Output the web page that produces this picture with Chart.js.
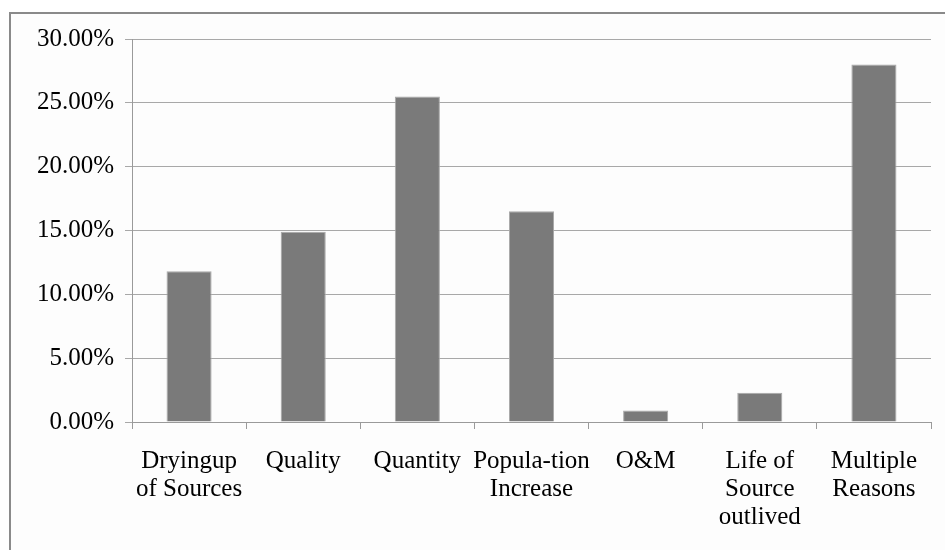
<!DOCTYPE html>
<html>
<head>
<meta charset="utf-8">
<script src="https://cdn.jsdelivr.net/npm/chart.js@4.4.0/dist/chart.umd.min.js"></script>
<style>
  html, body { margin: 0; padding: 0; background: #ffffff; }
  #wrap { width: 945px; height: 550px; position: relative; }
</style>
</head>
<body>
<div id="wrap"><canvas id="c" width="945" height="550"></canvas></div>
<script>
const categories = [
  ["Dryingup", "of Sources"],
  ["Quality"],
  ["Quantity"],
  ["Popula-tion", "Increase"],
  ["O&M"],
  ["Life of", "Source", "outlived"],
  ["Multiple", "Reasons"]
];
const percentages = [11.8, 14.9, 25.5, 16.5, 0.9, 2.3, 28.0];
const yTickMin = 0;
const yTickMax = 30;
const yTickStep = 5;

const frame = {
  id: 'frame',
  beforeDraw(chart) {
    const ctx = chart.ctx;
    ctx.save();
    ctx.fillStyle = '#fdfdfd';
    ctx.fillRect(10, 13, 1000, 1000);
    ctx.strokeStyle = '#8a8a8a';
    ctx.lineWidth = 2;
    ctx.strokeRect(10, 13, 1000, 1000);
    ctx.restore();
  }
};

const FONT = "'Liberation Serif', 'Times New Roman', serif";

new Chart(document.getElementById('c'), {
  type: 'bar',
  data: {
    labels: categories,
    datasets: [{
      data: percentages,
      backgroundColor: '#7a7a7a',
      borderColor: '#a9a9a9',
      borderWidth: 1,
      barPercentage: 0.395,
      categoryPercentage: 1.0
    }]
  },
  options: {
    responsive: false,
    animation: false,
    devicePixelRatio: 1,
    layout: { padding: { left: 0, top: 39, right: 14, bottom: 0 } },
    plugins: { legend: { display: false }, tooltip: { enabled: false } },
    scales: {
      x: {
        offset: true,
        grid: {
          offset: true,
          drawOnChartArea: false,
          drawTicks: true,
          tickLength: 7,
          color: '#9a9a9a'
        },
        border: { display: true, color: '#9a9a9a', width: 1 },
        ticks: {
          color: '#000000',
          padding: 18,
          maxRotation: 0,
          autoSkip: false,
          font: { family: FONT, size: 25, lineHeight: 1.12 }
        },
        afterFit(scale) { scale.height = 128; }
      },
      y: {
        min: yTickMin,
        max: yTickMax,
        ticks: {
          stepSize: yTickStep,
          color: '#000000',
          padding: 11,
          font: { family: FONT, size: 25 },
          callback: v => v.toFixed(2) + '%'
        },
        grid: {
          color: '#a8a8a8',
          tickLength: 7,
          lineWidth: 1
        },
        border: { display: true, color: '#9a9a9a', width: 1 },
        afterFit(scale) { scale.width = 132; }
      }
    }
  },
  plugins: [frame]
});
</script>
</body>
</html>
